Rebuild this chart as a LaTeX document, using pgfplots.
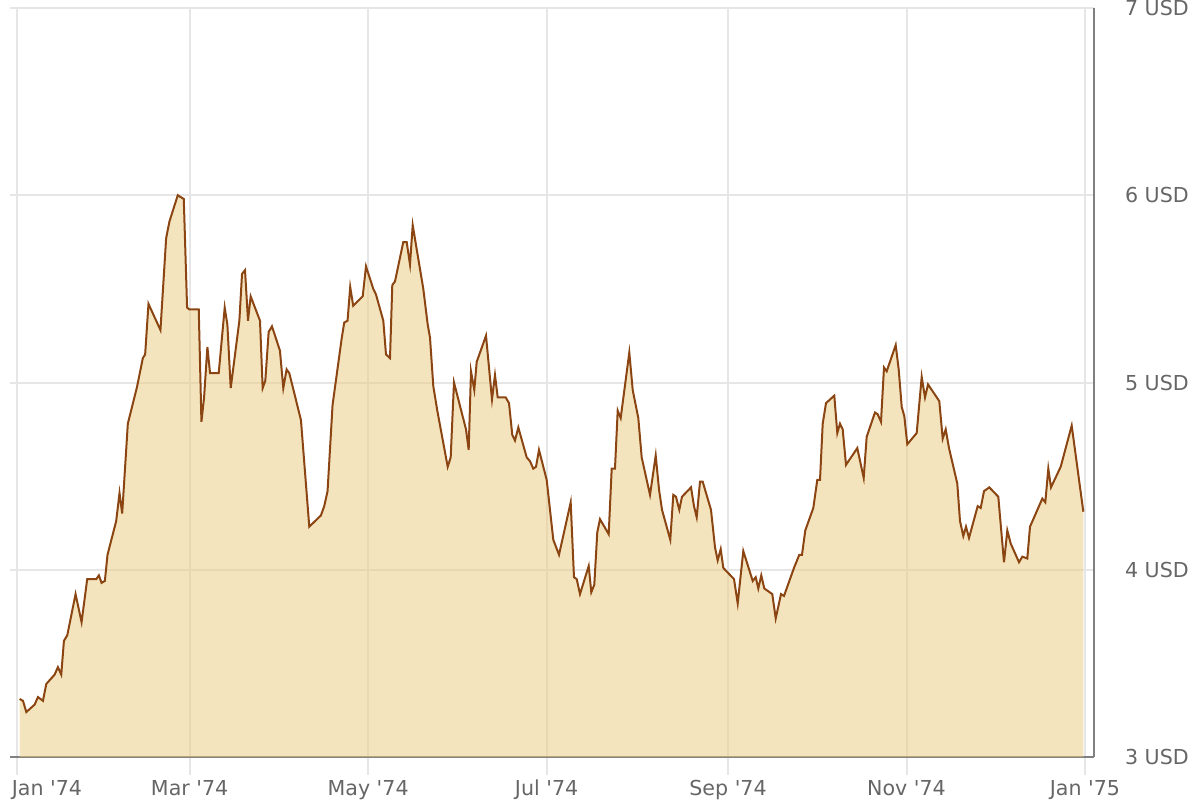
\documentclass[border=0pt]{standalone}
\usepackage{pgfplots}
\pgfplotsset{compat=1.18}
\usepackage{pgfplotstable}
\usepackage{fontspec}
\setmainfont{DejaVu Sans}
\definecolor{gridc}{HTML}{E6E6E6}
\definecolor{axisc}{HTML}{808080}
\definecolor{textc}{HTML}{666666}
\definecolor{linec}{HTML}{8B4513}
\definecolor{fillc}{RGB}{234,202,124}
\pgfplotstableread{
day val
0.91 3.31
2.05 3.30
3.19 3.24
6.03 3.28
7.17 3.32
8.87 3.30
10.01 3.39
12.86 3.44
13.99 3.48
15.13 3.44
16.04 3.62
17.18 3.65
20.02 3.87
22.07 3.72
24.00 3.95
27.08 3.95
27.99 3.97
28.90 3.93
30.03 3.94
30.94 4.08
33.90 4.26
35.04 4.41
35.95 4.30
37.88 4.78
41.07 4.98
43.00 5.13
43.80 5.15
44.94 5.42
49.03 5.28
50.97 5.77
52.10 5.86
54.95 6.00
57.00 5.98
58.13 5.40
58.93 5.39
62.12 5.39
63.03 4.79
63.94 4.92
65.07 5.19
65.98 5.05
68.94 5.05
70.99 5.40
71.90 5.31
73.04 4.97
76.00 5.33
76.91 5.58
77.93 5.60
78.95 5.33
79.86 5.46
83.05 5.33
83.96 4.97
84.87 5.01
86.01 5.27
87.14 5.30
89.87 5.17
91.01 4.97
92.15 5.07
93.06 5.05
97.04 4.80
99.89 4.23
103.87 4.29
105.01 4.34
106.14 4.42
107.85 4.88
110.92 5.23
111.83 5.32
112.97 5.33
113.88 5.51
114.90 5.41
118.15 5.46
119.28 5.62
121.77 5.50
122.69 5.47
125.19 5.33
126.11 5.15
127.48 5.13
128.26 5.52
129.19 5.54
132.02 5.75
133.18 5.75
134.31 5.63
135.24 5.84
138.86 5.50
140.36 5.31
141.15 5.24
142.28 4.98
143.64 4.85
147.20 4.55
148.22 4.60
149.35 5.00
153.45 4.75
154.37 4.64
155.16 5.06
156.29 4.96
157.11 5.11
160.29 5.25
162.34 4.91
163.36 5.04
164.29 4.92
167.02 4.92
168.15 4.89
169.27 4.72
170.20 4.69
171.33 4.76
174.20 4.60
175.32 4.58
176.45 4.54
177.38 4.55
178.40 4.64
181.03 4.48
183.29 4.16
185.24 4.08
189.23 4.36
190.36 3.96
191.29 3.95
192.41 3.87
195.39 4.02
196.27 3.88
197.30 3.92
198.32 4.20
199.25 4.27
202.22 4.19
203.25 4.54
204.37 4.54
205.30 4.85
206.32 4.81
209.26 5.16
210.43 4.96
212.34 4.81
213.50 4.60
216.34 4.40
218.29 4.61
219.41 4.43
220.44 4.32
223.27 4.16
224.30 4.40
225.22 4.39
226.35 4.32
227.27 4.39
230.35 4.44
231.37 4.34
232.30 4.28
233.42 4.47
234.35 4.47
237.18 4.32
238.55 4.12
239.47 4.05
240.50 4.11
241.39 4.01
245.05 3.95
246.31 3.82
248.22 4.10
251.44 3.94
252.46 3.96
253.35 3.90
254.37 3.97
255.40 3.90
258.13 3.87
259.30 3.74
261.11 3.87
262.13 3.86
265.55 4.01
267.36 4.08
268.28 4.08
269.41 4.21
272.15 4.33
273.51 4.48
274.44 4.48
275.36 4.78
276.49 4.89
279.32 4.93
280.35 4.73
281.27 4.78
282.19 4.75
283.32 4.56
287.18 4.65
289.37 4.49
290.39 4.71
293.23 4.84
294.16 4.83
295.28 4.79
296.31 5.08
297.23 5.06
300.31 5.20
301.33 5.07
302.36 4.87
303.25 4.82
304.27 4.67
307.48 4.73
309.19 5.03
310.32 4.92
311.35 4.99
315.21 4.90
316.37 4.70
317.40 4.75
318.52 4.65
321.36 4.46
322.28 4.26
323.41 4.18
324.33 4.23
325.36 4.17
328.33 4.34
329.36 4.33
330.49 4.42
332.30 4.44
335.37 4.39
337.32 4.04
338.45 4.21
339.61 4.14
342.45 4.04
343.58 4.07
345.28 4.06
346.21 4.23
350.41 4.38
351.44 4.36
352.46 4.54
353.38 4.44
356.70 4.55
360.46 4.77
364.43 4.31
}\pricedata
\begin{document}
\begin{tikzpicture}
\path[use as bounding box] (-5pt,-21.5pt) rectangle (595pt,378.5pt);
\begin{axis}[
  at={(0,0)}, anchor=south west,
  scale only axis,
  width=542pt, height=374.5pt,
  xmin=-2.39, xmax=368.08,
  ymin=3, ymax=7,
  axis x line*=bottom,
  axis y line*=right,
  axis line style={draw=axisc, line width=1pt},
  xtick={0,59,120,181,243,304,365},
  xticklabels={\hspace*{30pt}Jan \textquotesingle 74, Mar \textquotesingle 74, May \textquotesingle 74, Jul \textquotesingle 74, Sep \textquotesingle 74, Nov \textquotesingle 74, Jan \textquotesingle 75},
  ytick={3,4,5,6,7},
  yticklabels={3 USD,4 USD,5 USD,6 USD,7 USD},
  tick align=outside,
  major tick length=9pt,
  xtick style={draw=gridc, line width=1pt},
  ytick style={draw=none},
  grid=major,
  major grid style={draw=gridc, line width=1pt},
  tick label style={font=\fontsize{10.3}{12}\selectfont, text=textc},
  yticklabel style={anchor=west, xshift=3pt},
  xticklabel style={anchor=north, yshift=1pt},
  clip=true,
]
\addplot[draw=none, fill=fillc, fill opacity=0.5] table[x=day,y=val] {\pricedata} \closedcycle;
\addplot[linec, line width=1pt, mark=none] table[x=day,y=val] {\pricedata};
\end{axis}
\end{tikzpicture}
\end{document}
